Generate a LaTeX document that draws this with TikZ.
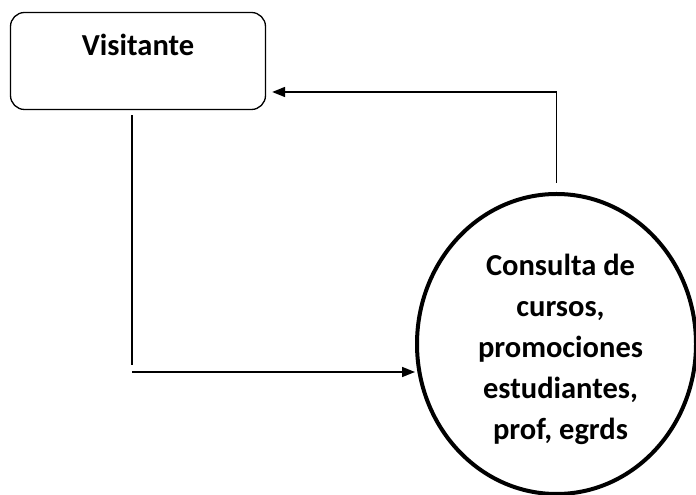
\documentclass[tikz,border=0pt]{standalone}
\usepackage{fontspec}
\setmainfont{Carlito}
\usetikzlibrary{arrows.meta,shapes.geometric,calc}
\begin{document}
\begin{tikzpicture}[x=1pt,y=1pt,
  box/.style={draw, line width=1.3pt, rounded corners=14pt, minimum width=255pt, minimum height=97pt, inner sep=0pt},
  proc/.style={draw, ellipse, line width=4pt, minimum width=279pt, minimum height=300pt, inner sep=0pt},
  lbl/.style={font=\bfseries\fontsize{30.5}{41}\selectfont, align=center},
  conn/.style={line width=1.6pt},
  arr/.style={conn, -{Triangle[length=13pt,width=10pt]}}]
\useasboundingbox (0,0) rectangle (696,495);
\node[box, label={[lbl, yshift=-47pt]north:Visitante}] (vis) at (138,434) {};
\node[proc, label={[lbl, shift={(4pt,-5pt)}]center:Consulta de\\cursos,\\promociones\\estudiantes,\\prof, egrds}] (pr) at (556.5,151) {};
% return arrow
\coordinate (r0) at ([yshift=9pt]pr.north);
\coordinate (r1) at ([shift={(6pt,-31pt)}]vis.east);
\draw[arr] (r0) |- (r1);
% request arrow
\coordinate (v0) at ([shift={(-6pt,-5pt)}]vis.south);
\coordinate (v1) at (v0 |- 0,130);
\draw[line width=1.3pt] (v0) -- (v1);
\coordinate (h0) at (v0 |- 0,123);
\draw[arr] (h0) -- (h0 -| pr.west);
\end{tikzpicture}
\end{document}
